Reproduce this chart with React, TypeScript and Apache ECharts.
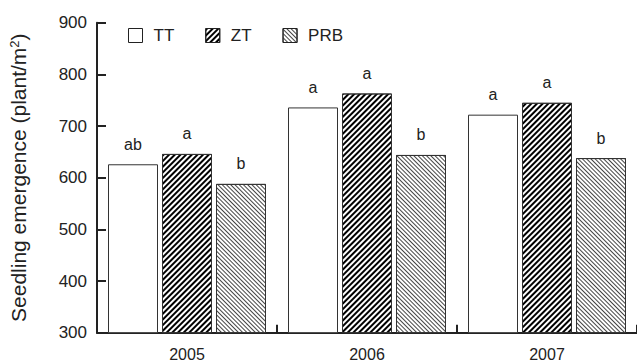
import React, { useEffect, useRef } from "react";
import * as echarts from "echarts";

const years = ["2005", "2006", "2007"];
const seriesNames = ["TT", "ZT", "PRB"];
const ttValues = [626, 736, 722];
const ztValues = [646, 763, 745];
const prbValues = [588, 644, 638];
const ttLetters = ["ab", "a", "a"];
const ztLetters = ["a", "a", "a"];
const prbLetters = ["b", "b", "b"];
const yTicks = [300, 400, 500, 600, 700, 800, 900];

const FONT = "'Liberation Sans', Arial, Helvetica, sans-serif";

export default function App() {
  const ref = useRef<HTMLDivElement>(null);
  useEffect(() => {
    if (!ref.current) return;
    const chart = echarts.init(ref.current, undefined, { renderer: "svg" });
    const decals: any[] = [
      null,
      {
        symbol: "rect",
        color: "#000",
        backgroundColor: "#fff",
        dashArrayX: [1, 0],
        dashArrayY: [1.7, 2],
        rotation: -Math.PI / 4,
        symbolSize: 1,
      },
      {
        symbol: "rect",
        color: "#444",
        backgroundColor: "#fff",
        dashArrayX: [1, 0],
        dashArrayY: [1, 1.8],
        rotation: Math.PI / 4,
        symbolSize: 1,
      },
    ];
    const valuesList = [ttValues, ztValues, prbValues];
    const lettersList = [ttLetters, ztLetters, prbLetters];
    const series = seriesNames.map((name, i) => ({
      name,
      type: "bar",
      barWidth: 50,
      barGap: "8%",
      data: valuesList[i].map((v, j) => ({
        value: v,
        label: { formatter: lettersList[i][j] },
      })),
      itemStyle: {
        color: "#fff",
        borderColor: "#333",
        borderWidth: 1,
        decal: decals[i] || undefined,
      },
      label: {
        show: true,
        position: "top",
        distance: 12,
        color: "#222",
        fontSize: 16,
        fontFamily: FONT,
      },
    }));
    chart.setOption({
      animation: false,
      aria: { enabled: false },
      grid: { left: 96, right: 0, top: 22.7, bottom: 31.3, containLabel: false },
      legend: {
        left: 123,
        top: 22,
        itemWidth: 14,
        itemHeight: 14,
        itemGap: 31,
        icon: "rect",
        data: seriesNames,
        textStyle: {
          fontSize: 17,
          fontFamily: FONT,
          color: "#222",
          padding: [0, 0, 0, 6],
        },
        itemStyle: { borderColor: "#222", borderWidth: 1 },
      },
      xAxis: {
        type: "category",
        data: years,
        boundaryGap: true,
        axisLine: { lineStyle: { color: "#222", width: 2 } },
        axisTick: {
          show: true,
          inside: true,
          length: 8,
          interval: 0,
          lineStyle: { color: "#222", width: 2 },
        },
        axisLabel: {
          fontSize: 16,
          fontFamily: FONT,
          color: "#222",
          margin: 14,
        },
      },
      yAxis: {
        type: "value",
        min: yTicks[0],
        max: yTicks[yTicks.length - 1],
        interval: 100,
        name: "Seedling emergence (plant/m{sup|2})",
        nameLocation: "middle",
        nameGap: 68,
        nameTextStyle: {
          fontSize: 21,
          fontFamily: FONT,
          color: "#222",
          rich: {
            sup: {
              fontSize: 13,
              fontFamily: FONT,
              color: "#222",
              verticalAlign: "top",
              padding: [0, 0, 8, 0],
            },
          },
        },
        splitLine: { show: false },
        axisLine: { show: true, lineStyle: { color: "#222", width: 2 } },
        axisTick: {
          show: true,
          inside: true,
          length: 9,
          lineStyle: { color: "#222", width: 2 },
        },
        axisLabel: {
          fontSize: 17,
          fontFamily: FONT,
          color: "#222",
          margin: 10,
        },
      },
      series,
    });
    return () => chart.dispose();
  }, []);
  return (
    <div
      ref={ref}
      style={{ position: "fixed", left: 0, top: 0, width: 637, height: 364, background: "#fff" }}
    />
  );
}
